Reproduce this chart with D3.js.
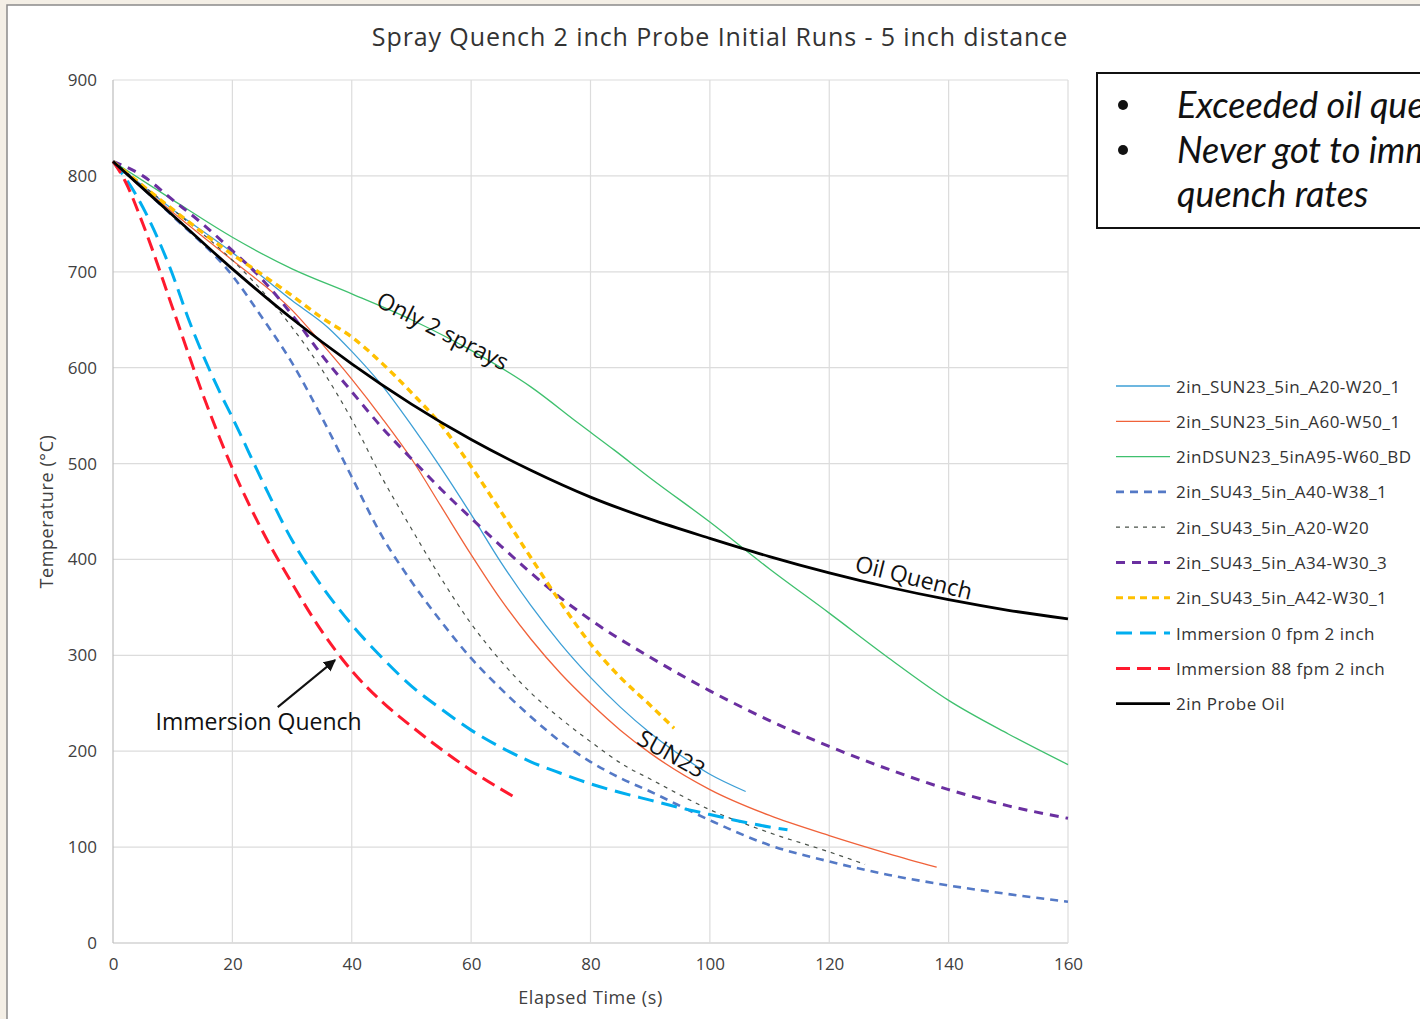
<!DOCTYPE html>
<html><head><meta charset="utf-8">
<script src="https://cdn.jsdelivr.net/npm/d3@7"></script>
<style>
body{margin:0;background:#f4efe6;overflow:hidden}
svg{display:block}
</style>
</head><body>
<svg id="c" width="1420" height="1019"></svg>
<script>
// ---------------- DATA ----------------
const chartTitle = "Spray Quench 2 inch Probe Initial Runs - 5 inch distance";
const xTicks = [0,20,40,60,80,100,120,140,160];
const yTicks = [0,100,200,300,400,500,600,700,800,900];
const xTitle = "Elapsed Time (s)";
const yTitle = "Temperature (°C)";

const seriesNames = [
  "2in_SUN23_5in_A20-W20_1",
  "2in_SUN23_5in_A60-W50_1",
  "2inDSUN23_5inA95-W60_BD",
  "2in_SU43_5in_A40-W38_1",
  "2in_SU43_5in_A20-W20",
  "2in_SU43_5in_A34-W30_3",
  "2in_SU43_5in_A42-W30_1",
  "Immersion 0 fpm 2 inch",
  "Immersion 88 fpm 2 inch",
  "2in Probe Oil"
];

// time (s) and temperature (°C) for each series
const sun23A20Time = [0,10,20,30,36,40,45,50,55,60,65,70,75,80,85,90,95,100,106];
const sun23A20Temp = [815,765,720,670,642,617,582,540,495,447,397,352,312,277,246,219,196,176,158];

const sun23A60Time = [0,10,20,30,35,40,45,50,55,60,65,70,75,80,85,90,100,110,120,130,138];
const sun23A60Temp = [815,762,712,660,625,588,548,505,455,405,358,317,281,250,222,198,160,133,112,93,79];

const dsun23A95Time = [0,10,20,30,40,50,60,70,78,84,90,100,110,120,130,140,150,160];
const dsun23A95Temp = [815,775,736,703,677,650,618,580,542,514,485,439,390,344,297,253,218,186];

const su43A40Time = [0,10,20,25,30,35,40,45,50,55,60,65,70,75,80,85,90,100,110,120,130,140,150,160];
const su43A40Temp = [815,758,696,652,605,548,486,425,377,335,297,265,236,210,189,172,158,128,102,85,71,60,51,43];

const su43A20Time = [0,10,20,25,30,35,40,45,50,55,60,65,70,75,80,86,90,100,110,120,126];
const su43A20Temp = [815,765,712,680,642,598,546,486,432,380,333,294,261,234,210,184,171,139,115,95,82];

const su43A34Time = [0,5,10,15,20,25,30,35,40,45,50,55,60,65,70,75,80,90,100,110,120,130,140,150,160];
const su43A34Temp = [815,800,775,750,722,692,655,613,575,538,505,473,443,414,386,360,337,298,263,232,205,181,160,143,130];

const su43A42Time = [0,10,20,25,30,35,40,45,50,55,60,65,70,75,80,85,90,94];
const su43A42Temp = [815,765,718,697,675,652,632,605,574,540,497,450,402,355,312,277,248,224];

const imm0Time = [0,3.4,6,9.5,13,18,20,25,30,35,40,45,50,55,60,65,70,75,80,85,90,95,100,105,110,113];
const imm0Temp = [815,785,755,705,645,573,548,482,420,372,332,298,268,244,222,204,189,177,166,157,149,141,134,127,121,118];

const imm88Time = [0,2,5,10,15,20,25,30,35,40,45,50,55,60,67];
const imm88Temp = [815,795,750,662,573,495,430,375,325,284,252,226,202,180,153];

const oilTime = [0,10,20,30,40,50,60,70,80,90,100,110,120,130,140,150,160];
const oilTemp = [815,759,703,651,604,562,525,493,465,442,422,403,386,371,358,347,338];

const boxLines = ["Exceeded oil quench rates", "Never got to immersion", "quench rates"];

// ---------------- STYLES ----------------
const seriesData = [
  [sun23A20Time, sun23A20Temp],
  [sun23A60Time, sun23A60Temp],
  [dsun23A95Time, dsun23A95Temp],
  [su43A40Time, su43A40Temp],
  [su43A20Time, su43A20Temp],
  [su43A34Time, su43A34Temp],
  [su43A42Time, su43A42Temp],
  [imm0Time, imm0Temp],
  [imm88Time, imm88Temp],
  [oilTime, oilTemp]
];
const styles = [
  {color:"#3d9fd6", w:1.3, dash:null},
  {color:"#f0623a", w:1.3, dash:null},
  {color:"#3fc06e", w:1.3, dash:null},
  {color:"#5479c6", w:2.6, dash:"8,6"},
  {color:"#4a524a", w:1.2, dash:"4,5"},
  {color:"#6a2fa0", w:3,   dash:"9,7"},
  {color:"#ffc000", w:3.4, dash:"7,5"},
  {color:"#00aeef", w:3,   dash:"16,8"},
  {color:"#ff1a2e", w:3,   dash:"14,7"},
  {color:"#000000", w:2.8, dash:null}
];

// ---------------- DRAW ----------------
const svg = d3.select("#c");
const font = "'Open Sans', 'Liberation Sans', sans-serif";

// frame
svg.append("rect").attr("x",7).attr("y",5).attr("width",1420).attr("height",1020)
  .attr("fill","#ffffff").attr("stroke","#8a8a8a").attr("stroke-width",1.5);

const x = d3.scaleLinear().domain([0,160]).range([113,1068]);
const y = d3.scaleLinear().domain([0,900]).range([943,80]);

// gridlines
const grid = svg.append("g");
grid.selectAll("line.h").data(yTicks).join("line")
  .attr("x1",x(0)).attr("x2",x(160)).attr("y1",d=>y(d)).attr("y2",d=>y(d))
  .attr("stroke", d=> d===0 ? "#bdbdbd" : "#dcdcdc").attr("stroke-width",1.2);
grid.selectAll("line.v").data(xTicks).join("line")
  .attr("y1",y(0)).attr("y2",y(900)).attr("x1",d=>x(d)).attr("x2",d=>x(d))
  .attr("stroke", d=> d===0 ? "#bdbdbd" : "#dcdcdc").attr("stroke-width",1.2);

// axes
const xAxis = svg.append("g").attr("transform",`translate(0,${y(0)})`)
  .call(d3.axisBottom(x).tickValues(xTicks).tickSize(0).tickPadding(15));
const yAxis = svg.append("g").attr("transform",`translate(${x(0)},0)`)
  .call(d3.axisLeft(y).tickValues(yTicks).tickSize(0).tickPadding(16));
[xAxis,yAxis].forEach(a=>{
  a.select(".domain").remove();
  a.selectAll("text").attr("font-family",font).attr("font-size",17).attr("fill","#404040");
});

svg.append("text").attr("x",x(80)).attr("y",1004).attr("text-anchor","middle")
  .attr("font-family",font).attr("font-size",18).attr("letter-spacing",0.6).attr("fill","#404040").text(xTitle);
svg.append("text").attr("transform",`translate(53,${y(450)}) rotate(-90)`).attr("text-anchor","middle")
  .attr("font-family",font).attr("font-size",18).attr("letter-spacing",0.6).attr("fill","#404040").text(yTitle);

svg.append("text").attr("x",720).attr("y",46).attr("text-anchor","middle")
  .attr("font-family",font).attr("font-size",25).attr("letter-spacing",0.9).attr("fill","#333").text(chartTitle);

// lines
const line = d3.line().x(d=>x(d[0])).y(d=>y(d[1])).curve(d3.curveMonotoneX);
const linesG = svg.append("g");
seriesData.forEach((s,i)=>{
  const pts = s[0].map((t,j)=>[t,s[1][j]]);
  linesG.append("path").datum(pts).attr("d",line)
    .attr("fill","none").attr("stroke",styles[i].color).attr("stroke-width",styles[i].w)
    .attr("stroke-dasharray",styles[i].dash).attr("stroke-linejoin","round");
});

// annotations
const ann = svg.append("g").attr("font-family",font).attr("font-size",23).attr("fill","#111");
ann.append("text").attr("transform",`translate(${x(55.3)},${y(639)}) rotate(27)`)
  .attr("text-anchor","middle").attr("dominant-baseline","central").text("Only 2 sprays");
ann.append("text").attr("transform",`translate(${x(134.2)},${y(382)}) rotate(14)`)
  .attr("text-anchor","middle").attr("dominant-baseline","central").text("Oil Quench");
ann.append("text").attr("transform",`translate(${x(93.6)},${y(198)}) rotate(29)`)
  .attr("text-anchor","middle").attr("dominant-baseline","central").text("SUN23");
ann.append("text").attr("x",x(24.4)).attr("y",y(232)).attr("text-anchor","middle")
  .attr("dominant-baseline","central").text("Immersion Quench");

svg.append("defs").append("marker").attr("id","ah").attr("viewBox","0 0 10 10")
  .attr("refX",9).attr("refY",5).attr("markerWidth",6).attr("markerHeight",6).attr("orient","auto")
  .append("path").attr("d","M0,0 L10,5 L0,10 z").attr("fill","#111");
svg.append("line").attr("x1",x(27.6)).attr("y1",y(246)).attr("x2",x(37.2)).attr("y2",y(295))
  .attr("stroke","#111").attr("stroke-width",2).attr("marker-end","url(#ah)");

// legend
const lg = svg.append("g");
seriesNames.forEach((n,i)=>{
  const cy = 386 + i*35.3;
  lg.append("line").attr("x1",1116).attr("x2",1170).attr("y1",cy).attr("y2",cy)
    .attr("stroke",styles[i].color).attr("stroke-width",Math.min(styles[i].w,3))
    .attr("stroke-dasharray",styles[i].dash);
  lg.append("text").attr("x",1176).attr("y",cy).attr("dominant-baseline","central")
    .attr("font-family",font).attr("font-size",17).attr("letter-spacing",0.5).attr("fill","#333").text(n);
});

// text box
const bx = svg.append("g");
bx.append("rect").attr("x",1097).attr("y",73).attr("width",400).attr("height",155)
  .attr("fill","#fff").attr("stroke","#111").attr("stroke-width",2);
const boxFont = "Lato, 'Open Sans', sans-serif";
const baselines = [118,163,207];
boxLines.forEach((t,i)=>{
  bx.append("text").attr("x",1177).attr("y",baselines[i]).attr("font-family",boxFont)
    .attr("font-style","italic").attr("font-size",36).attr("fill","#111").text(t);
});
[0,1].forEach(i=>{
  bx.append("circle").attr("cx",1123).attr("cy",baselines[i]-13).attr("r",5).attr("fill","#111");
});
</script>
</body></html>
